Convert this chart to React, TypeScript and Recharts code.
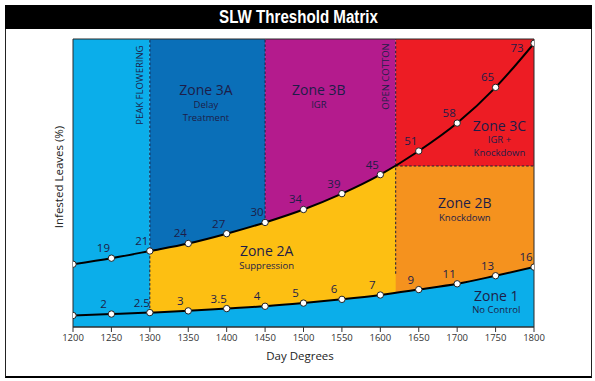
import {
  Area,
  ComposedChart,
  LabelList,
  Line,
  ReferenceArea,
  ReferenceDot,
  ReferenceLine,
  XAxis,
  YAxis,
} from "recharts";

// day degrees along the bottom axis
const dayDegrees = [1200, 1250, 1300, 1350, 1400, 1450, 1500, 1550, 1600, 1650, 1700, 1750, 1800];
// curve heights as drawn (schematic, % of plot height)
const lowerLine = [4.0, 4.5, 5.0, 5.6, 6.4, 7.2, 8.3, 9.6, 11.1, 13.0, 15.0, 17.8, 20.8];
const upperLine = [21.8, 23.9, 26.4, 29.0, 32.4, 36.3, 40.8, 46.3, 52.9, 61.1, 70.8, 83.2, 98.5];
// printed threshold values (% infested leaves)
const lowerLabels = ["", "2", "2.5", "3", "3.5", "4", "5", "6", "7", "9", "11", "13", "16"];
const upperLabels = ["", "19", "21", "24", "27", "30", "34", "39", "45", "51", "58", "65", "73"];

const peakFlowering = 1300;
const zone3Split = 1450;
const openCotton = 1620;
const zone2bTop = 55.9;

const rows = dayDegrees.map((x, i) => ({
  x,
  lower: lowerLine[i],
  upper: upperLine[i],
  lowerLabel: lowerLabels[i],
  upperLabel: upperLabels[i],
}));

const FONT = '"Open Sans", "Noto Sans", sans-serif';
const INK = "#1d1d48";

const C_CYAN = "#0BAEEA";
const C_BLUE = "#0A6FB8";
const C_MAGENTA = "#B41B8D";
const C_RED = "#ED1C24";
const C_YELLOW = "#FDBF12";
const C_ORANGE = "#F5921E";

const zoneTexts = [
  { x: 1373, y: 82.2, title: "Zone 3A", lines: ["Delay", "Treatment"] },
  { x: 1520, y: 82.2, title: "Zone 3B", lines: ["IGR"] },
  { x: 1755, y: 69.9, title: "Zone 3C", lines: ["IGR +", "Knockdown"] },
  { x: 1452, y: 26.3, title: "Zone 2A", lines: ["Suppression"] },
  { x: 1710, y: 42.9, title: "Zone 2B", lines: ["Knockdown"] },
  { x: 1751, y: 10.8, title: "Zone 1", lines: ["No Control"] },
];

const stageTexts = [
  { x: 1287, y: 84, text: "PEAK FLOWERING" },
  { x: 1607, y: 87, text: "OPEN COTTON" },
];

// one text block per zone: title + small caption lines
function ZoneText({ cx, cy, title, lines }: { cx: number; cy: number; title: string; lines: string[] }) {
  return (
    <text x={cx} y={cy + 5} fontFamily={FONT} fill={INK} textAnchor="middle">
      <tspan x={cx} fontSize={14}>
        {title}
      </tspan>
      {lines.map((line, i) => (
        <tspan key={line} x={cx} dy={i === 0 ? 12.5 : 13} fontSize={9.5}>
          {line}
        </tspan>
      ))}
    </text>
  );
}

function StageText({ cx, cy, text }: { cx: number; cy: number; text: string }) {
  return (
    <text
      x={cx}
      y={cy}
      transform={`rotate(-90 ${cx} ${cy})`}
      textAnchor="middle"
      dominantBaseline="central"
      fontFamily={FONT}
      fontSize={9.5}
      fill={INK}
    >
      {text}
    </text>
  );
}

function pointLabel(last: number) {
  return (props: any) => {
    const x = props.x ?? props.viewBox?.x;
    const y = props.y ?? props.viewBox?.y;
    if (!props.value) return null;
    const corner = props.index === last;
    return (
      <text
        x={x + (corner ? -17 : -8)}
        y={y + (corner ? 4 : -10.5)}
        textAnchor="middle"
        dominantBaseline="central"
        fontFamily={FONT}
        fontSize={11.5}
        fill={INK}
      >
        {props.value}
      </text>
    );
  };
}

const dash = { stroke: "#1a1a3a", strokeWidth: 1, strokeDasharray: "2.5 2" };

export default function App() {
  return (
    <div style={{ position: "fixed", left: 0, top: 0, width: 595, height: 381, background: "#fff" }}>
      <div
        style={{
          position: "absolute",
          left: 5,
          top: 5,
          width: 587,
          height: 373,
          boxSizing: "border-box",
          borderLeft: "1.5px solid #222",
          borderRight: "1.5px solid #222",
          borderTop: "1px solid #888",
          borderBottom: "2.5px solid #000",
        }}
      />
      <div
        style={{
          position: "absolute",
          left: 5,
          top: 5,
          width: 587,
          height: 24,
          background: "#000",
          color: "#fff",
          textAlign: "center",
          lineHeight: "24px",
          fontFamily: '"Liberation Sans", Arial, sans-serif',
          fontWeight: 700,
          fontSize: 18,
        }}
      >
        <span style={{ display: "inline-block", transform: "scaleX(0.84)" }}>SLW Threshold Matrix</span>
      </div>
      <div
        style={{
          position: "absolute",
          left: 58,
          top: 177,
          transform: "translate(-50%, -50%) rotate(-90deg)",
          whiteSpace: "nowrap",
          fontFamily: FONT,
          fontSize: 11.5,
          color: "#222",
        }}
      >
        Infested Leaves (%)
      </div>
      <div
        style={{
          position: "absolute",
          left: 300,
          top: 355,
          transform: "translate(-50%, -50%)",
          whiteSpace: "nowrap",
          fontFamily: FONT,
          fontSize: 11.5,
          color: "#222",
        }}
      >
        Day Degrees
      </div>
      <div style={{ position: "absolute", left: 0, top: 0 }}>
        <ComposedChart width={595} height={381} data={rows} margin={{ top: 39, right: 61, bottom: 24, left: 73 }}>
          <XAxis
            dataKey="x"
            type="number"
            domain={[1200, 1800]}
            ticks={dayDegrees}
            allowDataOverflow
            height={30}
            tickSize={5}
            axisLine={{ stroke: "#333" }}
            tickLine={{ stroke: "#333" }}
            tick={{ fontSize: 9.5, fill: "#333", fontFamily: FONT }}
          />
          <YAxis hide type="number" domain={[0, 100]} allowDataOverflow />

          <ReferenceArea x1={peakFlowering} x2={zone3Split} y1={0} y2={100} fill={C_BLUE} fillOpacity={1} stroke="none" zIndex={1} />
          <ReferenceArea x1={zone3Split} x2={openCotton} y1={0} y2={100} fill={C_MAGENTA} fillOpacity={1} stroke="none" zIndex={1} />
          <Area dataKey="upper" type="monotone" fill={C_YELLOW} fillOpacity={1} stroke="none" isAnimationActive={false} zIndex={2} />
          <ReferenceArea x1={1200} x2={peakFlowering} y1={0} y2={100} fill={C_CYAN} fillOpacity={1} stroke="none" zIndex={3} />
          <ReferenceArea x1={openCotton} x2={1800} y1={0} y2={zone2bTop} fill={C_ORANGE} fillOpacity={1} stroke="none" zIndex={3} />
          <ReferenceArea x1={openCotton} x2={1800} y1={zone2bTop} y2={100} fill={C_RED} fillOpacity={1} stroke="none" zIndex={3} />
          <Area dataKey="lower" type="monotone" fill={C_CYAN} fillOpacity={1} stroke="none" isAnimationActive={false} zIndex={4} />

          <ReferenceLine segment={[{ x: peakFlowering, y: 5 }, { x: peakFlowering, y: 100 }]} {...dash} zIndex={5} />
          <ReferenceLine segment={[{ x: zone3Split, y: 36.3 }, { x: zone3Split, y: 100 }]} {...dash} zIndex={5} />
          <ReferenceLine segment={[{ x: openCotton, y: 18.5 }, { x: openCotton, y: 100 }]} {...dash} zIndex={5} />
          <ReferenceLine segment={[{ x: openCotton, y: zone2bTop }, { x: 1800, y: zone2bTop }]} {...dash} zIndex={5} />
          <ReferenceArea x1={1200} x2={1800} y1={0} y2={100} fill="none" stroke="#2a2a2a" strokeWidth={1} zIndex={6} />

          <Line
            dataKey="lower"
            type="monotone"
            stroke="#000"
            strokeWidth={2}
            dot={{ r: 3.2, fill: "#fff", stroke: "#222", strokeWidth: 1 }}
            isAnimationActive={false}
            zIndex={7}
          >
            <LabelList dataKey="lowerLabel" content={pointLabel(-1)} />
          </Line>
          <Line
            dataKey="upper"
            type="monotone"
            stroke="#000"
            strokeWidth={2}
            dot={{ r: 3.2, fill: "#fff", stroke: "#222", strokeWidth: 1 }}
            isAnimationActive={false}
            zIndex={7}
          >
            <LabelList dataKey="upperLabel" content={pointLabel(upperLabels.length - 1)} />
          </Line>

          {zoneTexts.map((z) => (
            <ReferenceDot
              key={z.title}
              x={z.x}
              y={z.y}
              r={0}
              shape={(p: any) => <ZoneText cx={p.cx} cy={p.cy} title={z.title} lines={z.lines} />}
            />
          ))}
          {stageTexts.map((s) => (
            <ReferenceDot
              key={s.text}
              x={s.x}
              y={s.y}
              r={0}
              shape={(p: any) => <StageText cx={p.cx} cy={p.cy} text={s.text} />}
            />
          ))}
        </ComposedChart>
      </div>
    </div>
  );
}
